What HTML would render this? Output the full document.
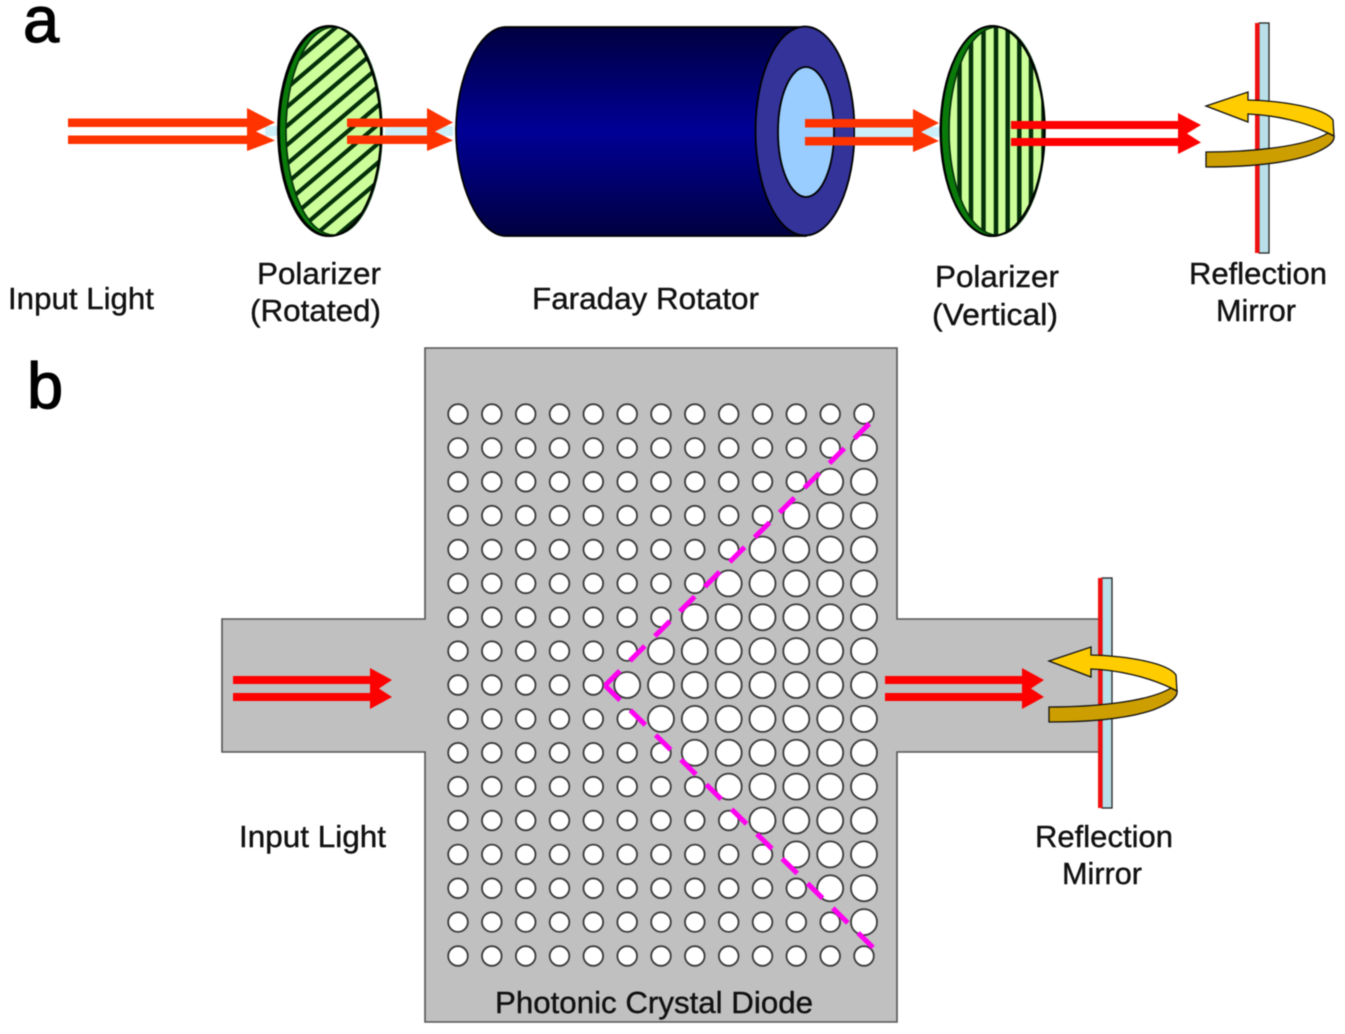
<!DOCTYPE html>
<html><head><meta charset="utf-8"><style>
html,body{margin:0;padding:0;background:#fff;width:1345px;height:1034px;overflow:hidden}
svg{display:block;filter:blur(.45px)}
text{font-family:"Liberation Sans",sans-serif;font-size:31px;fill:#111;stroke:#111;stroke-width:.4px}
text.big{font-size:65px;fill:#000;stroke:#000;stroke-width:1.2px}
</style></head><body>
<svg width="1345" height="1034" viewBox="0 0 1345 1034" xmlns="http://www.w3.org/2000/svg">
<defs>
<linearGradient id="v" x1="0" y1="0" x2="0" y2="1"><stop offset="0" stop-color="#000040"/><stop offset=".5" stop-color="#000096"/><stop offset="1" stop-color="#000040"/></linearGradient>
<clipPath id="p1"><ellipse cx="334" cy="131" rx="48" ry="104"/></clipPath>
<clipPath id="p2"><ellipse cx="997" cy="131" rx="48" ry="104"/></clipPath>
<g id="mirror">
<rect x="1259" y="23" width="10" height="230" fill="#b9e0e8" stroke="#222" stroke-width="1.3"/>
<rect x="1255" y="23" width="4.5" height="230" fill="#f01010"/>
<path d="M1206,152 C1250,152 1305,147 1328,133 L1334,136 C1335,142 1328,148 1310,155 C1280,165 1240,167 1206,167 Z" fill="#cc9e00" stroke="#111" stroke-width="1.3"/>
<path d="M1206,106 L1248,92 L1248,100 C1285,101 1325,108 1333,120 L1334,136 L1328,133 C1305,122 1275,115 1248,114 L1248,122 Z" fill="#ffcc00" stroke="#111" stroke-width="1.3"/>
</g>
<g id="h" fill="#fff" stroke="#3a3a3a" stroke-width="1.8">
<circle cx="458" r="9.8"/><circle cx="491.8" r="9.8"/><circle cx="525.7" r="9.8"/><circle cx="559.5" r="9.8"/><circle cx="593.3" r="9.8"/><circle cx="627.2" r="9.8"/><circle cx="661" r="9.8"/><circle cx="694.8" r="9.8"/><circle cx="728.7" r="9.8"/><circle cx="762.5" r="9.8"/><circle cx="796.3" r="9.8"/><circle cx="830.2" r="9.8"/><circle cx="864" r="9.8"/>
</g>
<circle id="c" r="13" fill="#fff" stroke="#3a3a3a" stroke-width="1.8"/>
<g id="b1"><use href="#c" x="864"/></g>
<g id="b2"><use href="#b1"/><use href="#c" x="830.2"/></g>
<g id="b3"><use href="#b2"/><use href="#c" x="796.3"/></g>
<g id="b4"><use href="#b3"/><use href="#c" x="762.5"/></g>
<g id="b5"><use href="#b4"/><use href="#c" x="728.7"/></g>
<g id="b6"><use href="#b5"/><use href="#c" x="694.8"/></g>
<g id="b7"><use href="#b6"/><use href="#c" x="661"/></g>
<g id="b8"><use href="#b7"/><use href="#c" x="627.2"/></g>
</defs>
<rect width="1345" height="1034" fill="#fff"/>

<text class="big" x="23" y="42">a</text>
<text class="big" x="27" y="408">b</text>

<!-- Panel a -->
<rect x="265" y="126" width="20" height="10" fill="#cdeffa"/>
<g fill="#ff3300">
<rect x="68" y="118.500" width="182" height="8.500"/><rect x="68" y="135.500" width="182" height="8.500"/>
<path d="M247,108 L275,122.500 L256,131.500 L275,140.500 L247,151 Z"/>
</g>
<ellipse cx="328" cy="131" rx="50" ry="105" fill="#0a7a0a" stroke="#000" stroke-width="1.8"/>
<ellipse cx="334" cy="131" rx="48" ry="104" fill="#ccff99"/>
<g clip-path="url(#p1)" stroke="#04300a" stroke-width="4.200">
<path d="M270,64.400L390,-37.600M270,83.400L390,-18.600M270,102.400L390,.4M270,121.400L390,19.400M270,140.400L390,38.400M270,159.400L390,57.400M270,178.400L390,76.400M270,197.400L390,95.400M270,216.400L390,114.400M270,235.400L390,133.400M270,254.400L390,152.400M270,273.400L390,171.400M270,292.400L390,190.400M270,311.400L390,209.400M270,330.400L390,228.400"/>
</g>
<ellipse cx="334" cy="131" rx="48" ry="104" fill="none" stroke="#04300a" stroke-width="1.6"/>
<ellipse cx="330" cy="131" rx="51" ry="105" fill="none" stroke="#000" stroke-width="2"/>
<rect x="385" y="126" width="68" height="10" fill="#cdeffa"/>
<g fill="#ff3300">
<rect x="347" y="118.500" width="82" height="8.500"/><rect x="347" y="135.500" width="82" height="8.500"/>
<path d="M427,108 L453,122.500 L435,131.500 L453,140.500 L427,151 Z"/>
</g>

<path d="M806,27 L506,27 C478,27 456,80 456,131 C456,182 478,236 506,236 L806,236 Z" fill="url(#v)" stroke="#000" stroke-width="1.8"/>
<ellipse cx="805" cy="131" rx="49.500" ry="104.500" fill="#333399" stroke="#000" stroke-width="1.8"/>
<ellipse cx="806" cy="132" rx="28" ry="65" fill="#99ccff" stroke="#000" stroke-width="1.8"/>
<rect x="855" y="127" width="85" height="10" fill="#cdeffa"/>
<g fill="#ff3300">
<rect x="805" y="119" width="110" height="8.500"/><rect x="805" y="137" width="110" height="8.500"/>
<path d="M913,109 L939,123 L921,132 L939,141 L913,152 Z"/>
</g>

<ellipse cx="992" cy="131" rx="51" ry="105" fill="#0a7a0a" stroke="#000" stroke-width="1.8"/>
<ellipse cx="997" cy="131" rx="48" ry="104" fill="#ccff99"/>
<g clip-path="url(#p2)" stroke="#04300a" stroke-width="4.500">
<path d="M947.500,0V260M959.500,0V260M971,0V260M983.500,0V260M996,0V260M1007.700,0V260M1019.300,0V260M1031,0V260M1043.500,0V260"/>
</g>
<ellipse cx="997" cy="131" rx="48" ry="104" fill="none" stroke="#04300a" stroke-width="1.6"/>
<ellipse cx="992.500" cy="131" rx="52" ry="105" fill="none" stroke="#000" stroke-width="2"/>

<use href="#mirror"/>
<g fill="#ff0000">
<rect x="1011" y="121" width="169" height="8"/><rect x="1011" y="138" width="169" height="8"/>
<path d="M1178,113 L1201,125 L1187,133.500 L1201,142.500 L1178,154 Z"/>
</g>

<text x="8" y="309" textLength="146" lengthAdjust="spacingAndGlyphs">Input Light</text>
<text x="257" y="284" textLength="124" lengthAdjust="spacingAndGlyphs">Polarizer</text>
<text x="250" y="321" textLength="131" lengthAdjust="spacingAndGlyphs">(Rotated)</text>
<text x="532" y="309" textLength="227" lengthAdjust="spacingAndGlyphs">Faraday Rotator</text>
<text x="935" y="287" textLength="124" lengthAdjust="spacingAndGlyphs">Polarizer</text>
<text x="932" y="325" textLength="126" lengthAdjust="spacingAndGlyphs">(Vertical)</text>
<text x="1189" y="284" textLength="138" lengthAdjust="spacingAndGlyphs">Reflection</text>
<text x="1216" y="321" textLength="80" lengthAdjust="spacingAndGlyphs">Mirror</text>

<!-- Panel b -->
<path d="M425,348 H897 V619 H1100 V752 H897 V1022 H425 V752 H222 V619 H425 Z" fill="#c0c0c0" stroke="#555" stroke-width="1.6"/>
<use href="#h" y="414"/><use href="#h" y="447.900"/><use href="#h" y="481.750"/><use href="#h" y="515.600"/><use href="#h" y="549.500"/><use href="#h" y="583.400"/><use href="#h" y="617.250"/><use href="#h" y="651.100"/><use href="#h" y="685"/><use href="#h" y="718.900"/><use href="#h" y="752.750"/><use href="#h" y="786.600"/><use href="#h" y="820.500"/><use href="#h" y="854.400"/><use href="#h" y="888.250"/><use href="#h" y="922.100"/><use href="#h" y="956"/>
<use href="#b1" y="447.900"/><use href="#b2" y="481.750"/><use href="#b3" y="515.600"/><use href="#b4" y="549.500"/><use href="#b5" y="583.400"/><use href="#b6" y="617.250"/><use href="#b7" y="651.100"/><use href="#b8" y="685"/><use href="#b7" y="718.900"/><use href="#b6" y="752.750"/><use href="#b5" y="786.600"/><use href="#b4" y="820.500"/><use href="#b3" y="854.400"/><use href="#b2" y="888.250"/><use href="#b1" y="922.100"/>
<path d="M605,685.500 L871,422" fill="none" stroke="#ff00f0" stroke-width="5" stroke-dasharray="21 14.100"/>
<path d="M605,685.500 L873,947.500" fill="none" stroke="#ff00f0" stroke-width="5" stroke-dasharray="21 14.400"/>

<use href="#mirror" transform="translate(-157,555)"/>
<g fill="#ff0000">
<rect x="233" y="676" width="139" height="8"/><rect x="233" y="693" width="139" height="8"/>
<path d="M370,668 L392,680 L379,688.500 L392,697 L370,709 Z"/>
<rect x="885" y="676" width="139" height="8"/><rect x="885" y="693" width="139" height="8"/>
<path d="M1022,668 L1044,680 L1031,688.500 L1044,697 L1022,709 Z"/>
</g>
<text x="239" y="847" textLength="147" lengthAdjust="spacingAndGlyphs">Input Light</text>
<text x="1035" y="847" textLength="138" lengthAdjust="spacingAndGlyphs">Reflection</text>
<text x="1062" y="884" textLength="80" lengthAdjust="spacingAndGlyphs">Mirror</text>
<text x="495" y="1013" textLength="318" lengthAdjust="spacingAndGlyphs">Photonic Crystal Diode</text>
</svg>
</body></html>
